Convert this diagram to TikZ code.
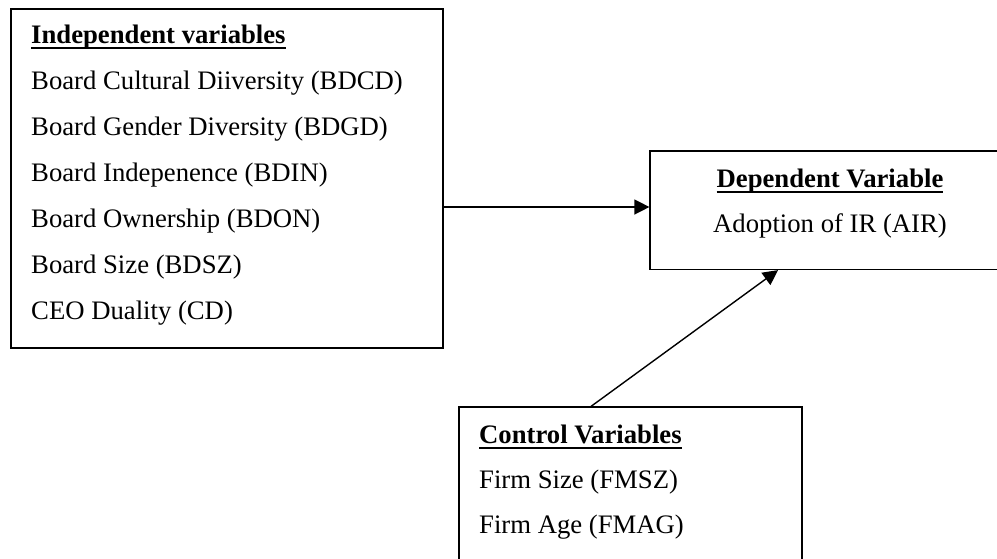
\documentclass[tikz,border=0pt]{standalone}
\usepackage{fontspec}
\setmainfont{Liberation Serif}
\usetikzlibrary{arrows.meta}
% bold heading with a Word-style underline that sits close under the baseline
\newcommand\headline[1]{\setbox0\hbox{\bfseries #1}\rlap{\vrule height -3.8pt depth 6.3pt width \wd0}\box0}
\begin{document}
\begin{tikzpicture}[x=1pt,y=-1pt,
  panel/.style={draw=black, line width=1.2pt, rectangle, inner sep=0pt},
  entry/.style={anchor=base west, inner sep=0pt, font=\fontsize{26.7}{32}\selectfont},
  centry/.style={anchor=base, inner sep=0pt, font=\fontsize{26.7}{32}\selectfont},
  link/.style={draw=black, line width=1.4pt, -{Triangle[length=15pt,width=15pt]}}]
\useasboundingbox (0,0) rectangle (997,558);

% boxes
\node[panel, minimum width=432pt, minimum height=339pt] (ind) at (227,178.5) {};
\node[panel, minimum width=370pt, minimum height=118.5pt] (dep) at (835,210.25) {};
\node[panel, minimum width=343pt, minimum height=170pt] (ctl) at (630.5,492) {};

% independent variables
\node[entry] (indh) at (31,43) {\headline{Independent variables}};
\node[entry] (i1) at (31,89) {Board Cultural Diiversity (BDCD)};
\node[entry] (i2) at (31,135) {Board Gender Diversity (BDGD)};
\node[entry] (i3) at (31,181) {Board Indepenence (BDIN)};
\node[entry] (i4) at (31,227) {Board Ownership (BDON)};
\node[entry] (i5) at (31,273) {Board Size (BDSZ)};
\node[entry] (i6) at (31,319) {CEO Duality (CD)};

% dependent variable
\node[centry] (deph) at (830,187) {\headline{Dependent Variable}};
\node[centry] (d1) at (830,232) {Adoption of IR (AIR)};

% control variables
\node[entry] (ctlh) at (479,443) {\headline{Control Variables}};
\node[entry] (c1) at (479,488) {Firm Size (FMSZ)};
\node[entry] (c2) at (479,533) {Firm Age (FMAG)};

% connectors
\draw[link] (ind.east |- 0,207) -- (dep.west |- 0,207);
\draw[link] (ctl.north -| 591,0) -- (dep.south -| 778,0);
\end{tikzpicture}
\end{document}
